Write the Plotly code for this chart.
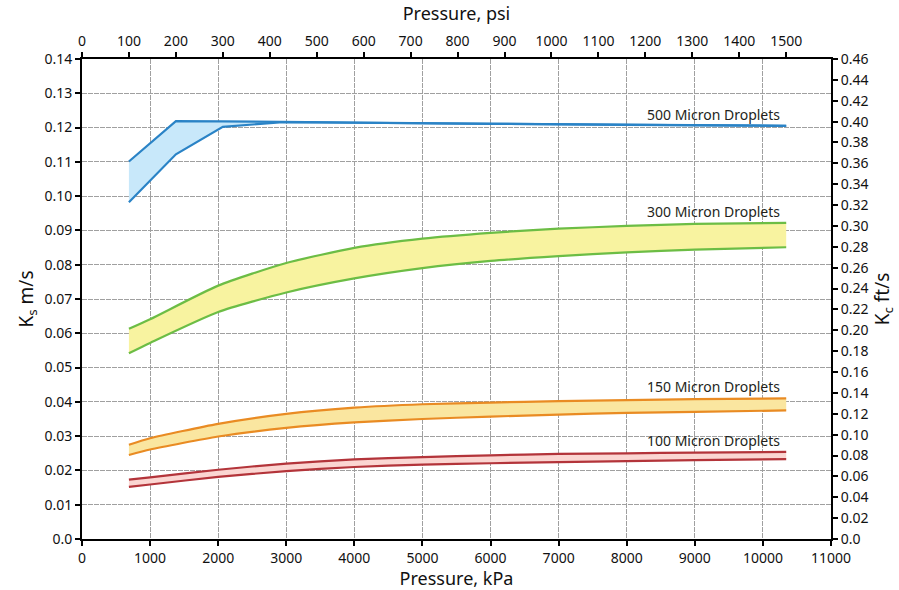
import plotly.graph_objects as go

KPA_PER_PSI = 6.894757
FT_PER_M = 3.28084

# ---- data (x in kPa, y in m/s) ----
x500 = [689, 1379, 2068, 2950, 4000, 6000, 8000, 10342]
up500 = [0.1101, 0.1219, 0.1218, 0.1216, 0.1214, 0.1211, 0.1208, 0.1205]
lo500 = [0.0982, 0.1122, 0.1202, 0.1216, 0.1214, 0.1211, 0.1208, 0.1205]

xc = [689, 1000, 2000, 3000, 4000, 5000, 6000, 7000, 8000, 9000, 10342]
up300 = [0.0613, 0.0641, 0.0739, 0.0805, 0.0849, 0.0876, 0.0893, 0.0905, 0.0913, 0.0919, 0.0922]
lo300 = [0.0542, 0.0572, 0.0662, 0.0719, 0.0760, 0.0790, 0.0811, 0.0825, 0.0836, 0.0844, 0.0851]
up150 = [0.0275, 0.0294, 0.0336, 0.0365, 0.0383, 0.0393, 0.0398, 0.0402, 0.0405, 0.0408, 0.0410]
lo150 = [0.0245, 0.0261, 0.0299, 0.0324, 0.0340, 0.0350, 0.0357, 0.0363, 0.0368, 0.0371, 0.0375]
up100 = [0.0173, 0.0180, 0.0202, 0.0220, 0.0232, 0.0239, 0.0244, 0.0248, 0.0250, 0.0252, 0.0254]
lo100 = [0.0152, 0.0159, 0.0181, 0.0198, 0.0210, 0.0217, 0.0221, 0.0224, 0.0227, 0.0230, 0.0233]

labels = ["500 Micron Droplets", "300 Micron Droplets", "150 Micron Droplets", "100 Micron Droplets"]

x_ticks = list(range(0, 11001, 1000))
psi_ticks = list(range(0, 1501, 100))
ms_ticks = [round(i * 0.01, 2) for i in range(15)]
fts_ticks = [round(i * 0.02, 2) for i in range(24)]

bands = [
    (x500, lo500, up500, "#2a83c6", "rgba(200,232,250,1)", labels[0], "linear"),
    (xc, lo300, up300, "#6cbd45", "rgba(248,243,160,1)", labels[1], "spline"),
    (xc, lo150, up150, "#e98b23", "rgba(250,230,160,1)", labels[2], "spline"),
    (xc, lo100, up100, "#b3343a", "rgba(251,214,210,1)", labels[3], "spline"),
]

fig = go.Figure()
for xs, lo, up, lc, fc, name, shape in bands:
    fig.add_trace(go.Scatter(x=xs, y=lo, mode="lines",
                             line=dict(color=lc, width=2.2, shape=shape, smoothing=0.6),
                             showlegend=False, hoverinfo="skip"))
    fig.add_trace(go.Scatter(x=xs, y=up, mode="lines",
                             line=dict(color=lc, width=2.2, shape=shape, smoothing=0.6),
                             fill="tonexty", fillcolor=fc, showlegend=False, hoverinfo="skip"))
    fig.add_annotation(x=xs[-1], y=up[-1], text=name, showarrow=False,
                       xanchor="right", yanchor="bottom", xshift=-4, yshift=0,
                       font=dict(family="Noto Sans", size=14, color="#231f20"))

# dummy trace for secondary axes
fig.add_trace(go.Scatter(x=[0], y=[0], xaxis="x2", yaxis="y2", mode="markers",
                         marker=dict(opacity=0), showlegend=False, hoverinfo="skip"))

axis_font = dict(family="Noto Sans", size=14, color="#111")
common = dict(showline=True, linecolor="black", linewidth=2, ticks="outside",
              tickcolor="black", tickwidth=2, ticklen=5, tickfont=axis_font,
              zeroline=False, automargin=False)

fig.update_layout(
    width=899, height=590,
    margin=dict(l=82, r=68, t=59, b=51),
    paper_bgcolor="white", plot_bgcolor="white",
    font=dict(family="Noto Sans", color="#111"),
    xaxis=dict(range=[0, 11000], tickvals=x_ticks, ticktext=[str(v) for v in x_ticks],
               showgrid=True, gridcolor="#a0a0a0", gridwidth=1, griddash="5px,1px",
               title=dict(text="Pressure, kPa", font=dict(size=18), standoff=8), **common),
    xaxis2=dict(range=[0, 11000 / KPA_PER_PSI], overlaying="x", side="top",
                tickvals=psi_ticks, ticktext=[str(v) for v in psi_ticks], showgrid=False,
                title=dict(text="Pressure, psi", font=dict(size=18), standoff=6), **common),
    yaxis=dict(range=[0, 0.14], tickvals=ms_ticks,
               ticktext=["0.0"] + [f"{v:.2f}" for v in ms_ticks[1:]],
               showgrid=True, gridcolor="#a0a0a0", gridwidth=1, griddash="5px,1px",
               title=dict(text="K<sub>s</sub> m/s", font=dict(size=19), standoff=6), **common),
    yaxis2=dict(range=[0, 0.46], overlaying="y", side="right", tickvals=fts_ticks,
                ticktext=["0.0"] + [f"{v:.2f}" for v in fts_ticks[1:]], showgrid=False,
                title=dict(text="K<sub>c</sub> ft/s", font=dict(size=19), standoff=6), **common),
)

fig.write_html("out.html")
